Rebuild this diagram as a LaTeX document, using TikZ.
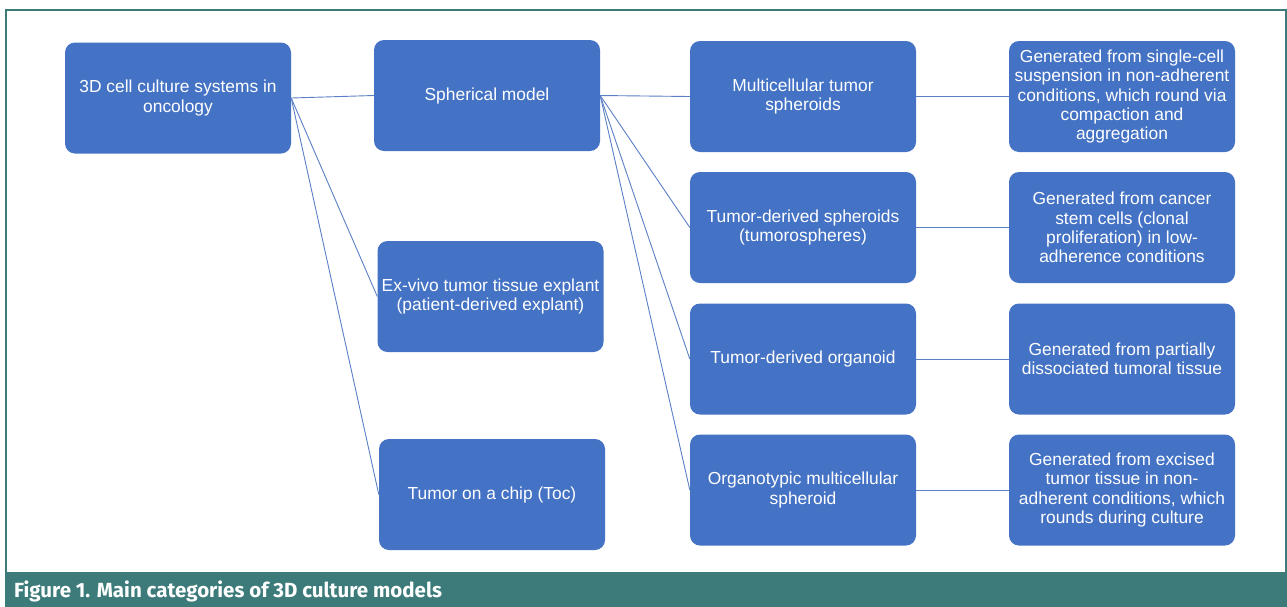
\documentclass[tikz,border=0pt]{standalone}
\usepackage{fontspec}
\setmainfont{Liberation Sans}
\newfontfamily\capfont{Fira Sans}
\definecolor{boxblue}{HTML}{4472C4}
\definecolor{linkblue}{HTML}{5B80C6}
\definecolor{frameteal}{HTML}{3D7B7B}

\begin{document}
\begin{tikzpicture}[x=1pt, y=-1pt,
  box/.style={fill=boxblue, rounded corners=10pt, minimum width=226pt, minimum height=111pt,
    text=white, align=center, inner sep=1pt, font=\fontsize{17.4}{19.3}\selectfont},
  link/.style={linkblue, line width=0.9pt}]
\useasboundingbox (0,0) rectangle (1287,606);
\fill[white] (0,0) rectangle (1287,606);
\draw[frameteal, line width=2pt] (6,10) rectangle (1285.5,607);
\fill[frameteal] (5,572) rectangle (1287,606);
\node[anchor=base west, inner sep=0pt, text=white, font=\capfont\bfseries\fontsize{20.5}{22}\selectfont] (caption) at (14,597) {Figure 1. Main categories of 3D culture models};

\node[box] (root) at (178,98) {3D cell culture systems in\\oncology};

\node[box] (sph) at (487,95.5) {Spherical model};
\node[box] (exv) at (490.5,296.5) {Ex-vivo tumor tissue explant\\(patient-derived explant)};
\node[box] (toc) at (492,494.5) {Tumor on a chip (Toc)};

\node[box] (mts) at (803,96.5) {Multicellular tumor\\spheroids};
\node[box] (tds) at (803,227.5) {Tumor-derived spheroids\\(tumorospheres)};
\node[box] (tdo) at (803,359) {Tumor-derived organoid};
\node[box] (oms) at (803,490) {Organotypic multicellular\\spheroid};

\node[box] (gmts) at (1122,96.5) {Generated from single-cell\\suspension in non-adherent\\conditions, which round via\\compaction and\\aggregation};
\node[box] (gtds) at (1122,227.5) {Generated from cancer\\stem cells (clonal\\proliferation) in low-\\adherence conditions};
\node[box] (gtdo) at (1122,359) {Generated from partially\\dissociated tumoral tissue};
\node[box] (goms) at (1122,490) {Generated from excised\\tumor tissue in non-\\adherent conditions, which\\rounds during culture};

\foreach \t in {sph,exv,toc}
  \draw[link] (root.east) -- (\t.west);
\foreach \t in {mts,tds,tdo,oms}
  \draw[link] (sph.east) -- (\t.west);
\foreach \s in {mts,tds,tdo,oms}
  \draw[link] (\s.east) -- (g\s.west);
\end{tikzpicture}
\end{document}
